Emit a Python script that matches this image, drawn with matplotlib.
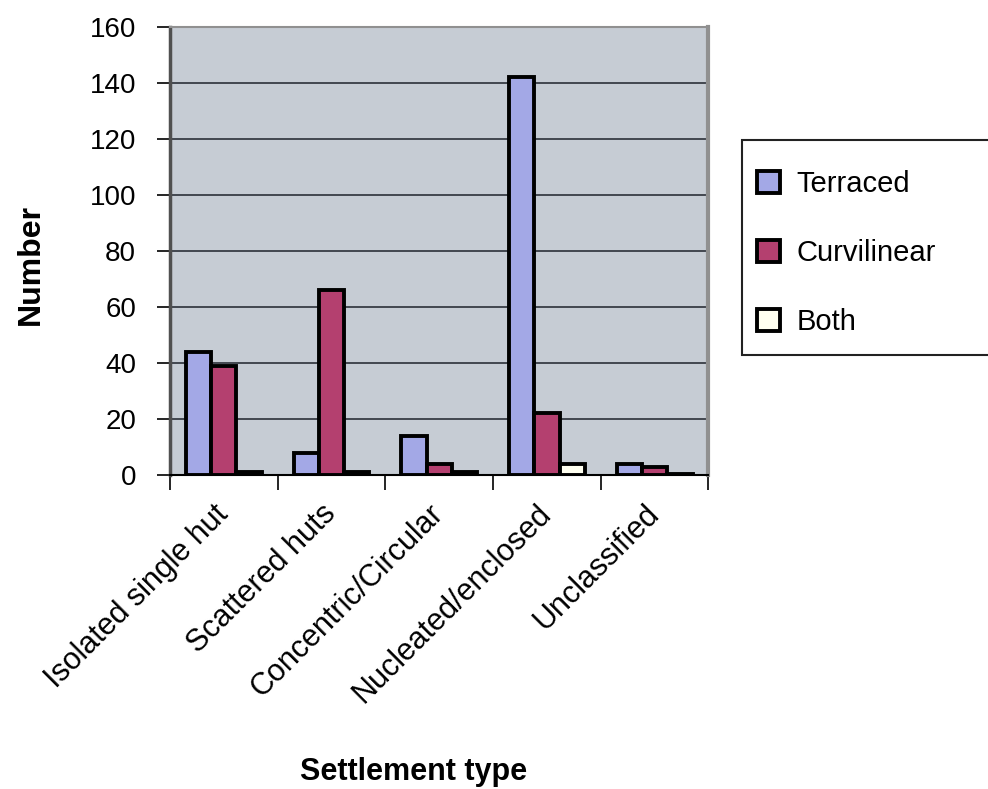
import numpy as np
import matplotlib.pyplot as plt
from matplotlib.patches import Rectangle

plt.rcParams['font.family'] = ['Liberation Sans', 'DejaVu Sans']

categories = ['Isolated single hut', 'Scattered huts', 'Concentric/Circular',
              'Nucleated/enclosed', 'Unclassified']
terraced = [44, 8, 14, 142, 4]
curvilinear = [39, 66, 4, 22, 3]
both = [1, 1, 1, 4, 0.5]

fig = plt.figure(figsize=(9.88, 7.89), dpi=100)
ax = fig.add_axes([0.172, 0.398, 0.545, 0.568])
ax.set_facecolor('#c6ccd4')

x = np.arange(len(categories))
w = 0.235
kw = dict(edgecolor='black', linewidth=2.8, zorder=3)
ax.bar(x - w, terraced, w, color='#a3a8e6', label='Terraced', **kw)
ax.bar(x, curvilinear, w, color='#b4406f', label='Curvilinear', **kw)
ax.bar(x + w, both, w, color='#fffff0', label='Both', **kw)

ax.set_xlim(-0.5, len(categories) - 0.5)
ax.set_ylim(0, 160)
ax.set_yticks(range(0, 161, 20))
ax.yaxis.grid(True, color='#383c44', linewidth=1.3, zorder=0)

# ticks between categories, labels centred under each group
ax.set_xticks(np.arange(len(categories) + 1) - 0.5)
ax.set_xticklabels([])
ax.set_xticks(x, minor=True)
ax.set_xticklabels(categories, minor=True, rotation=45, ha='right', va='center',
                   rotation_mode='anchor', fontsize=22)
ax.tick_params(axis='x', which='minor', length=0, pad=25)
ax.tick_params(axis='x', which='major', length=11, width=1.2, direction='out')
ax.tick_params(axis='y', length=9.4, width=1.2, labelsize=20, pad=15)

ax.spines['top'].set_color('#909090')
ax.spines['top'].set_linewidth(1.5)
ax.spines['right'].set_color('#909090')
ax.spines['right'].set_linewidth(3)
ax.spines['left'].set_color('#505050')
ax.spines['left'].set_linewidth(2.5)
ax.spines['bottom'].set_linewidth(1.5)

fig.text(0.031, 0.665, 'Number', fontsize=23, fontweight='bold', rotation=90,
         ha='center', va='center')
fig.text(0.419, 0.012, 'Settlement type', fontsize=22, fontweight='bold', ha='center')

# legend box runs off the right edge in the original
fig.patches.append(Rectangle((0.751, 0.550), 0.27, 0.2725, transform=fig.transFigure,
                             facecolor='white', edgecolor='#222222', linewidth=1.5,
                             zorder=1))
leg = fig.legend(loc='center left', bbox_to_anchor=(0.766, 0.679), fontsize=21,
                 frameon=False, labelspacing=1.4, handlelength=0.8, handleheight=0.8,
                 borderpad=0, handletextpad=0.55, borderaxespad=0)
leg.set_zorder(2)
for p in leg.get_patches():
    p.set_linewidth(2.8)

fig.savefig('out.png', dpi=100)
